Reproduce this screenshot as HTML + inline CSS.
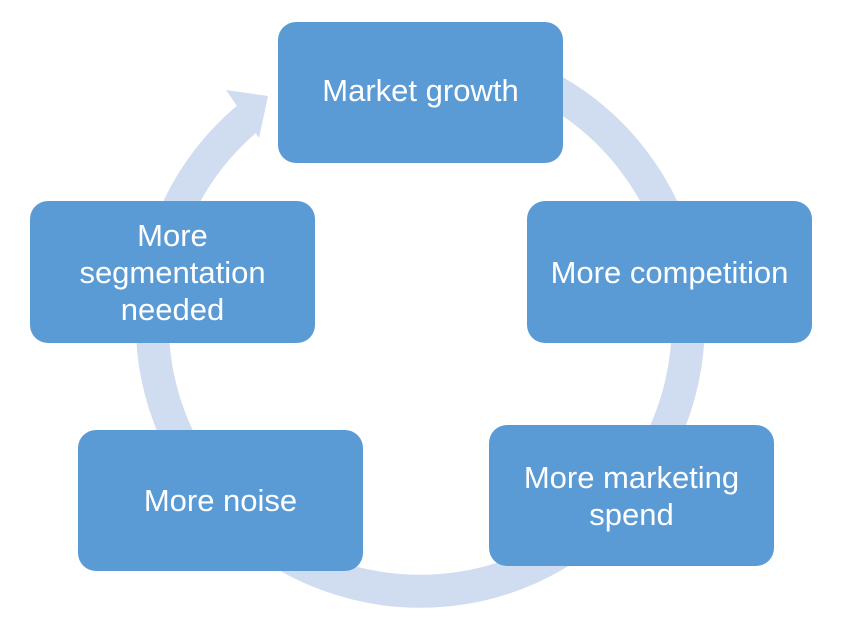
<!DOCTYPE html>
<html><head><style>
body{margin:0;width:850px;height:632px;background:#fff;position:relative;overflow:hidden;font-family:"Liberation Sans",sans-serif}
.b{position:absolute;width:285px;height:141px;background:#5b9bd5;border-radius:18px;color:#fff;font-size:31px;line-height:37px;display:flex;align-items:center;justify-content:center;text-align:center;letter-spacing:0}
</style></head><body>
<svg width="850" height="632" style="position:absolute;left:0;top:0">
<path d="M 554 91 A 268 268 0 1 1 248 118" fill="none" stroke="#d0dcef" stroke-width="33"/>
<polygon points="226,90 268,96 259,138" fill="#d0dcef"/>
</svg>
<div class="b" style="left:278px;top:22px;padding-bottom:4px;box-sizing:border-box">Market growth</div>
<div class="b" style="left:527px;top:201px;height:142px">More competition</div>
<div class="b" style="left:489px;top:425px">More marketing<br>spend</div>
<div class="b" style="left:78px;top:430px">More noise</div>
<div class="b" style="left:30px;top:201px;height:142px">More<br>segmentation<br>needed</div>
</body></html>
